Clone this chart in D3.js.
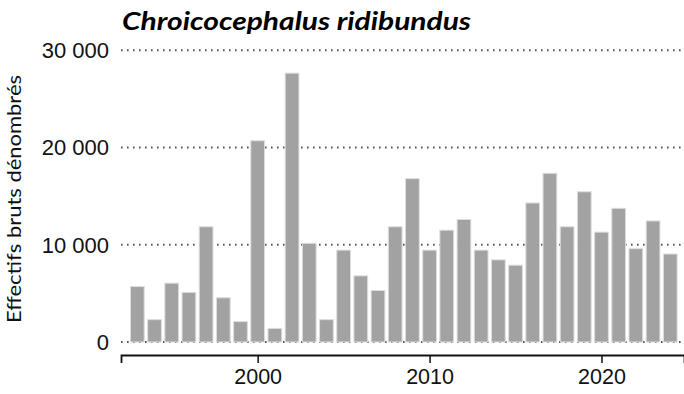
<!DOCTYPE html>
<html>
<head>
<meta charset="utf-8">
<script src="https://cdn.jsdelivr.net/npm/d3@7"></script>
<style>
  html, body { margin: 0; padding: 0; background: #fff; }
  svg { display: block; }
</style>
</head>
<body>
<svg id="chart" width="684" height="394"></svg>
<script>
// Annual raw counts of the black-headed gull
const years = [1993, 1994, 1995, 1996, 1997, 1998, 1999, 2000, 2001, 2002,
  2003, 2004, 2005, 2006, 2007, 2008, 2009, 2010, 2011, 2012,
  2013, 2014, 2015, 2016, 2017, 2018, 2019, 2020, 2021, 2022, 2023, 2024];
const counts = [5700, 2300, 6050, 5100, 11850, 4550, 2100, 20700, 1400, 27650,
  10150, 2300, 9450, 6800, 5300, 11850, 16800, 9450, 11500, 12600,
  9450, 8450, 7900, 14300, 17350, 11850, 15450, 11300, 13750, 9600, 12450, 9050];
const yTicks = [0, 10000, 20000, 30000];
const xTicks = [2000, 2010, 2020];
const title = "Chroicocephalus ridibundus";
const yTitle = "Effectifs bruts dénombrés";

const svg = d3.select("#chart");
const plotLeft = 121, plotRight = 684, plotTop = 50.3, plotBottom = 342;

const x = d3.scaleLinear().domain([1992.05, 2024.8]).range([plotLeft, plotRight]);
const y = d3.scaleLinear().domain([0, 30000]).range([plotBottom, plotTop]);
const step = x(1) - x(0);
const barW = step * 0.8;

const fmt = v => d3.format(",")(v).replace(/,/g, " ");

// dotted horizontal gridlines
svg.append("g").selectAll("line").data(yTicks).join("line")
  .attr("x1", plotLeft).attr("x2", plotRight)
  .attr("y1", d => y(d)).attr("y2", d => y(d))
  .attr("stroke", "#555").attr("stroke-width", 2)
  .attr("stroke-dasharray", "1.6,4.4");

// bars
svg.append("g").selectAll("rect").data(years).join("rect")
  .attr("x", (d) => x(d) - barW / 2)
  .attr("width", barW)
  .attr("y", (d, i) => y(counts[i]))
  .attr("height", (d, i) => y(0) - y(counts[i]))
  .attr("fill", "#a2a2a2")
  .attr("stroke", "#dedede").attr("stroke-width", 1);

// y tick labels
svg.append("g").selectAll("text").data(yTicks).join("text")
  .attr("x", 109).attr("y", d => y(d))
  .attr("dy", "0.36em")
  .attr("text-anchor", "end")
  .attr("font-family", "Liberation Sans, Arial, sans-serif")
  .attr("font-size", 22)
  .attr("fill", "#111")
  .text(d => fmt(d));

// x axis
const xAxis = svg.append("g")
  .attr("transform", `translate(0,355)`)
  .call(d3.axisBottom(x).tickValues(xTicks).tickFormat(d3.format("d")).tickSizeOuter(0).tickSize(8).tickPadding(6));
xAxis.select(".domain").attr("stroke", "#111").attr("stroke-width", 1.8);
xAxis.selectAll(".tick line").attr("stroke", "#111").attr("stroke-width", 1.5);
xAxis.selectAll(".tick text")
  .attr("font-family", "Liberation Sans, Arial, sans-serif")
  .attr("font-size", 21.5)
  .attr("fill", "#111");

// title
svg.append("text")
  .attr("x", 122).attr("y", 30)
  .attr("font-family", "Lato, 'Open Sans', sans-serif")
  .attr("font-weight", "bold").attr("font-style", "italic")
  .attr("font-size", 25)
  .attr("textLength", 349).attr("lengthAdjust", "spacingAndGlyphs")
  .attr("fill", "#000")
  .text(title);

// y axis title
svg.append("text")
  .attr("transform", "translate(21,199) rotate(-90)")
  .attr("text-anchor", "middle")
  .attr("font-family", "Lato, 'Open Sans', sans-serif")
  .attr("font-size", 20)
  .attr("textLength", 248).attr("lengthAdjust", "spacingAndGlyphs")
  .attr("fill", "#111")
  .text(yTitle);
</script>
</body>
</html>
